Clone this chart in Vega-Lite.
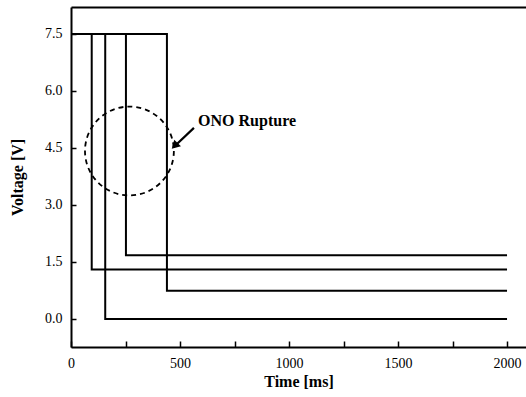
{
  "$schema": "https://vega.github.io/schema/vega-lite/v6.json",
  "width": 455,
  "height": 340,
  "autosize": {"type": "none"},
  "padding": {"left": 71, "top": 7, "right": 0, "bottom": 50},
  "background": "white",
  "config": {
    "view": {"stroke": null},
    "font": "Liberation Serif",
    "axis": {"grid": false, "domainColor": "black", "domainWidth": 2, "tickColor": "black", "labelColor": "black", "titleColor": "black", "labelFont": "Liberation Serif", "titleFont": "Liberation Serif"}
  },
  "datasets": {
    "lines": [
      {"s": "A", "t": 0, "v": 7.5}, {"s": "A", "t": 95, "v": 1.3}, {"s": "A", "t": 2000, "v": 1.3},
      {"s": "B", "t": 0, "v": 7.5}, {"s": "B", "t": 157, "v": 0.0}, {"s": "B", "t": 2000, "v": 0.0},
      {"s": "C", "t": 0, "v": 7.5}, {"s": "C", "t": 252, "v": 1.68}, {"s": "C", "t": 2000, "v": 1.68},
      {"s": "D", "t": 0, "v": 7.5}, {"s": "D", "t": 440, "v": 0.74}, {"s": "D", "t": 2000, "v": 0.74}
    ],
    "circle": [{"t": 268, "v": 4.42}],
    "arrow": [{"t": 564, "v": 5.03, "t2": 470, "v2": 4.52}],
    "head": [{"t": 480, "v": 4.58}],
    "label": [{"t": 583, "v": 5.2, "text": "ONO Rupture"}]
  },
  "resolve": {"axis": {"x": "independent", "y": "independent"}},
  "layer": [
    {
      "data": {"name": "lines"},
      "mark": {"type": "line", "interpolate": "step-after", "color": "black", "strokeWidth": 2},
      "encoding": {
        "x": {"field": "t", "type": "quantitative", "scale": {"domain": [0, 2087], "nice": false, "zero": false},
          "axis": {"title": "Time [ms]", "values": [0, 250, 500, 750, 1000, 1250, 1500, 1750, 2000], "labelExpr": "datum.value % 500 === 0 ? datum.label : ''", "format": "d", "tickSize": -6, "tickWidth": 1.5, "labelPadding": 15, "labelFontSize": 14, "titleFontSize": 16, "titleFontWeight": "bold", "titlePadding": 3, "labelFlush": false, "labelOverlap": false}},
        "y": {"field": "v", "type": "quantitative", "scale": {"domain": [-0.737, 8.21], "nice": false, "zero": false},
          "axis": {"title": "Voltage [V]", "values": [0, 1.5, 3, 4.5, 6, 7.5], "format": ".1f", "tickSize": -5, "tickWidth": 1.5, "labelPadding": 14, "labelFontSize": 14, "titleFontSize": 16, "titleFontWeight": "bold", "titlePadding": 19, "labelFlush": false, "labelOverlap": false}},
        "detail": {"field": "s"}
      }
    },
    {
      "data": {"name": "circle"},
      "mark": {"type": "point", "shape": "circle", "filled": false, "color": "black", "strokeWidth": 1.8, "strokeDash": [5, 4], "size": 7900, "opacity": 1},
      "encoding": {
        "x": {"field": "t", "type": "quantitative", "axis": {"orient": "top", "labels": false, "ticks": false, "title": null, "domain": true}},
        "y": {"field": "v", "type": "quantitative", "axis": null}
      }
    },
    {
      "data": {"name": "arrow"},
      "mark": {"type": "rule", "color": "black", "strokeWidth": 2.2},
      "encoding": {
        "x": {"field": "t", "type": "quantitative", "axis": null},
        "y": {"field": "v", "type": "quantitative", "axis": null},
        "x2": {"field": "t2"},
        "y2": {"field": "v2"}
      }
    },
    {
      "data": {"name": "head"},
      "mark": {"type": "point", "shape": "triangle", "filled": true, "color": "black", "size": 90, "angle": 225, "opacity": 1},
      "encoding": {
        "x": {"field": "t", "type": "quantitative", "axis": null},
        "y": {"field": "v", "type": "quantitative", "axis": null}
      }
    },
    {
      "data": {"name": "label"},
      "mark": {"type": "text", "align": "left", "baseline": "middle", "font": "Liberation Serif", "fontWeight": "bold", "fontSize": 16, "color": "black"},
      "encoding": {
        "x": {"field": "t", "type": "quantitative", "axis": null},
        "y": {"field": "v", "type": "quantitative", "axis": null},
        "text": {"field": "text"}
      }
    }
  ]
}
